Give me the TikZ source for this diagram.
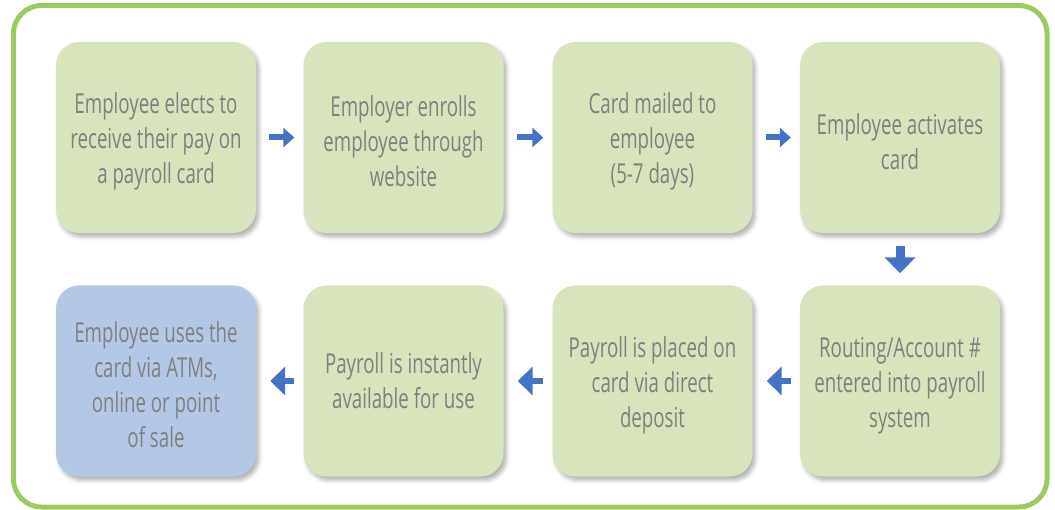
\documentclass[tikz,border=0pt]{standalone}
\usepackage{fontspec}
\setmainfont{Open Sans}[FakeStretch=0.68]
\usetikzlibrary{arrows.meta,shadows.blur}
\definecolor{framec}{HTML}{9CCB64}
\definecolor{boxg}{HTML}{D8E4BD}
\definecolor{boxb}{HTML}{B4C7E4}
\definecolor{arrc}{HTML}{4472C4}
\definecolor{txt}{HTML}{808080}
\newcommand{\toppad}{\rule{0pt}{29pt}}
\tikzset{
  stepbox/.style={rectangle, rounded corners=23pt, fill=boxg, minimum width=200pt, minimum height=191pt, inner sep=0pt, align=center, text=txt, font=\fontsize{27.5}{35}\selectfont, blur shadow={shadow xshift=3pt, shadow yshift=-4pt, shadow blur radius=4pt, shadow opacity=30}},
  lastbox/.style={stepbox, fill=boxb},
  rarr/.style={draw=arrc, line width=6pt, -{Triangle[width=19pt,length=11pt]}, shorten <=13pt, shorten >=9pt},
  larr/.style={draw=arrc, line width=6pt, -{Triangle[width=28pt,length=15pt]}, shorten <=9pt, shorten >=14pt},
  darr/.style={draw=arrc, line width=9pt, -{Triangle[width=30pt,length=16pt]}, shorten <=13pt, shorten >=12pt}
}
\begin{document}
\begin{tikzpicture}[x=1pt,y=-1pt]
\useasboundingbox (0,0) rectangle (1055,510);
\draw[framec, line width=5pt, rounded corners=28pt] (13.5,5.5) rectangle (1047,507);
\node[stepbox] (b1) at (156,137.5) {\toppad Employee elects to\\receive their pay on\\a payroll card};
\node[stepbox] (b2) at (403.5,137.5) {\toppad Employer enrolls\\employee through\\website};
\node[stepbox] (b3) at (652.5,137.5) {\toppad Card mailed to\\employee\\(5-7 days)};
\node[stepbox] (b4) at (900,137.5) {\toppad Employee activates\\card};
\node[stepbox] (b5) at (900,381) {\toppad Routing/Account \#\\entered into payroll\\system};
\node[stepbox] (b6) at (652.5,381) {\toppad Payroll is placed on\\card via direct\\deposit};
\node[stepbox] (b7) at (403.5,381) {Payroll is instantly\\available for use};
\node[lastbox] (b8) at (156,381) {\toppad Employee uses the\\card via ATMs,\\online or point\\of sale};
\draw[rarr] (b1.east) -- (b2.west);
\draw[rarr] (b2.east) -- (b3.west);
\draw[rarr] (b3.east) -- (b4.west);
\draw[darr] (b4.south) -- (b5.north);
\draw[larr] (b5.west) -- (b6.east);
\draw[larr] (b6.west) -- (b7.east);
\draw[larr] (b7.west) -- (b8.east);
\end{tikzpicture}
\end{document}
